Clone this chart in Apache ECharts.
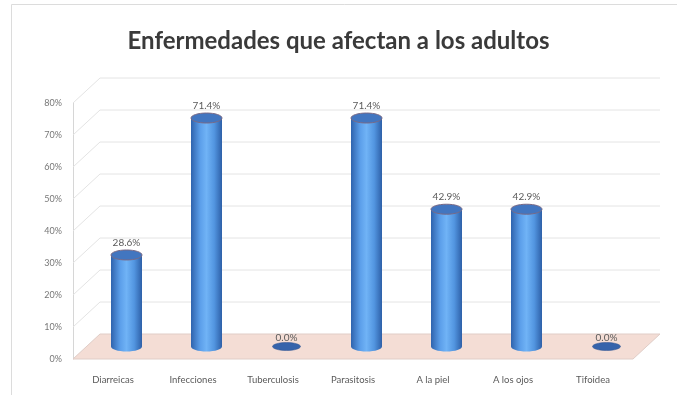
<!DOCTYPE html>
<html>
<head>
<meta charset="utf-8">
<script src="https://cdn.jsdelivr.net/npm/echarts@6/dist/echarts.min.js"></script>
<style>
  html, body { margin: 0; padding: 0; background: #fff; }
  #chart { width: 677px; height: 395px; }
</style>
</head>
<body>
<div id="chart"></div>
<script>
// Diseases reported among adults (share of respondents)
const categories = ['Diarreicas', 'Infecciones', 'Tuberculosis', 'Parasitosis', 'A la piel', 'A los ojos', 'Tifoidea'];
const values = [0.286, 0.714, 0.0, 0.714, 0.429, 0.429, 0.0];
const yTicks = [0, 0.1, 0.2, 0.3, 0.4, 0.5, 0.6, 0.7, 0.8];

// Pseudo-3D depth: offset of the back wall relative to the front plane
const DX = 27, DY = -25;
const FONT = 'Lato, "Open Sans", sans-serif';

const chart = echarts.init(document.getElementById('chart'));

function pct(v) { return (v * 100).toFixed(1) + '%'; }

// Floor, side-wall diagonals and back-wall gridlines
function renderWalls(params, api) {
  const cs = params.coordSys;
  const v = api.value(1);
  const y = api.coord([0, v])[1];
  const x0 = cs.x, x1 = cs.x + cs.width;
  if (v === 0) {
    return {
      type: 'polygon',
      shape: { points: [[x0, y], [x0 + DX, y + DY], [x1 + DX, y + DY], [x1, y]] },
      style: { fill: '#f4ddd5', stroke: '#e0cdc7', lineWidth: 1 }
    };
  }
  return {
    type: 'polyline',
    shape: { points: [[x0, y], [x0 + DX, y + DY], [x1 + DX, y + DY]] },
    style: { fill: null, stroke: '#e4e4e4', lineWidth: 1 }
  };
}

// Cylinder bars standing in the middle of the floor
function renderCylinder(params, api) {
  const i = api.value(0);
  const v = api.value(1);
  const top = api.coord([i, v]);
  const base = api.coord([i, 0]);
  const cx = top[0] + DX / 2;
  const ty = top[1] + DY / 2;
  const by = base[1] + DY / 2;
  const rx = 15.5, ry = 5;
  const side = {
    type: 'linear', x: 0, y: 0, x2: 1, y2: 0,
    colorStops: [
      { offset: 0, color: '#2f63ad' },
      { offset: 0.3, color: '#5c9fea' },
      { offset: 0.5, color: '#70b3f6' },
      { offset: 0.75, color: '#5295e0' },
      { offset: 1, color: '#2e60a8' }
    ]
  };
  const children = [];
  if (v > 0) {
    children.push({ type: 'ellipse', shape: { cx: cx, cy: by, rx: rx, ry: ry }, style: { fill: side } });
    children.push({ type: 'rect', shape: { x: cx - rx, y: ty, width: rx * 2, height: by - ty }, style: { fill: side } });
    children.push({ type: 'ellipse', shape: { cx: cx, cy: ty, rx: rx, ry: ry }, style: { fill: '#4276c0', stroke: '#7a6a86', lineWidth: 1 } });
  } else {
    children.push({ type: 'ellipse', shape: { cx: cx, cy: by, rx: 14, ry: 4 }, style: { fill: '#3563ab', stroke: '#2b4f8c', lineWidth: 0.5 } });
  }
  children.push({
    type: 'text',
    style: {
      text: pct(v), x: cx, y: ty - (v > 0 ? 7 : 4),
      textAlign: 'center', textVerticalAlign: 'bottom',
      fill: '#5a5a5a', font: '10px ' + FONT
    }
  });
  return { type: 'group', children: children };
}

chart.setOption({
  backgroundColor: '#fff',
  animation: false,
  title: {
    text: 'Enfermedades que afectan a los adultos',
    left: 'center', top: 24,
    textStyle: { fontFamily: FONT, fontWeight: 'bold', fontSize: 24, color: '#3a3a3a' }
  },
  graphic: [{
    type: 'rect',
    shape: { x: 11.5, y: 4.5, width: 700, height: 420 },
    style: { fill: null, stroke: '#dcdcdc', lineWidth: 1 },
    silent: true
  }],
  grid: { left: 73, right: 44, top: 103, bottom: 36 },
  xAxis: {
    type: 'category',
    data: categories,
    axisLine: { show: false },
    axisTick: { show: false },
    axisLabel: { color: '#5a5a5a', fontSize: 9.5, fontFamily: FONT, margin: 16, interval: 0 }
  },
  yAxis: {
    type: 'value',
    min: 0, max: 0.8, interval: 0.1,
    axisLine: { show: true, lineStyle: { color: '#d6d6d6' } },
    axisTick: { show: false },
    splitLine: { show: false },
    axisLabel: {
      color: '#777', fontSize: 9, fontFamily: FONT, margin: 11,
      formatter: function (v) { return Math.round(v * 100) + '%'; }
    }
  },
  series: [
    {
      type: 'custom',
      renderItem: renderWalls,
      data: yTicks.map(function (t) { return [0, t]; }),
      z: 1,
      silent: true
    },
    {
      type: 'custom',
      renderItem: renderCylinder,
      data: values.map(function (v, i) { return [i, v]; }),
      z: 3
    }
  ]
});
</script>
</body>
</html>
